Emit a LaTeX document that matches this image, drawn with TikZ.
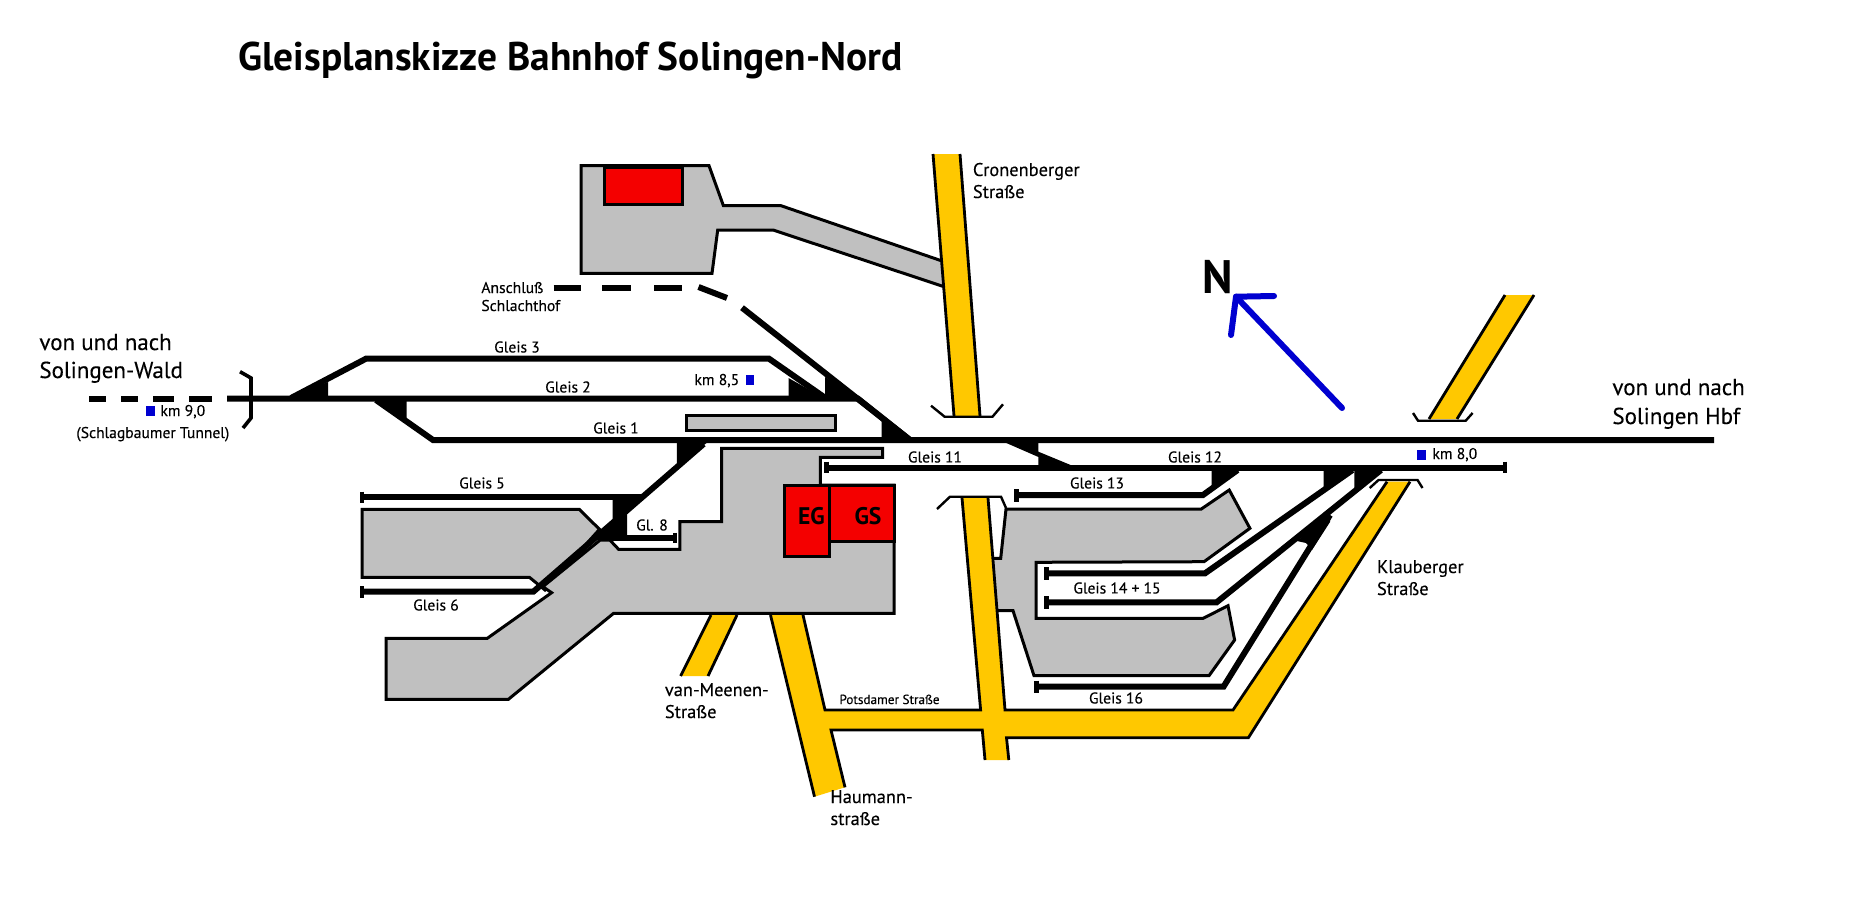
\documentclass[tikz,border=0pt]{standalone}
\usepackage{fontspec}
\setmainfont{PT Sans}[FakeBold=0.25]
\newfontfamily\headfont{PT Sans Bold}[FakeStretch=0.985]
\definecolor{platgray}{HTML}{C0C0C0}
\definecolor{roadyellow}{HTML}{FFC800}
\definecolor{housered}{HTML}{F40000}
\definecolor{kmblue}{HTML}{0000D0}
\tikzset{
  track/.style={draw=black, line width=3pt},
  stub/.style={draw=black, line width=2.4pt},
  wedge/.style={fill=black},
  plat/.style={draw=black, line width=1.5pt, fill=platgray, line join=miter},
  house/.style={draw=black, line width=1.5pt, fill=housered},
  road/.style={fill=roadyellow},
  edge/.style={draw=black, line width=1.4pt},
  abut/.style={draw=black, line width=1.2pt},
  km/.style={fill=kmblue, draw=none},
  big/.style={font=\fontsize{11.5}{13}\selectfont, inner sep=0pt, anchor=mid west},
  lab/.style={font=\fontsize{7.8}{10}\selectfont, inner sep=0pt},
  labw/.style={lab, anchor=mid west},
  street/.style={font=\fontsize{9.2}{11}\selectfont, inner sep=0pt, anchor=mid west}
}
\begin{document}
\begin{tikzpicture}[x=0.5pt,y=-0.5pt]
    \useasboundingbox (0,0) rectangle (1850,920);
    % platforms and buildings
    \draw[plat] (581,165.7)--(709,165.7)--(723.4,205.7)--(781,205.7)--(945,262)--(945,287)--(773,230)--(717.7,230)--(712,273.3)--(581,273.3)--cycle;
    \draw[plat] (686,415.7) rectangle (835,430);
    \draw[plat] (362,509.3)--(579.2,509.3)--(599.5,529.3)--(545,590)--(529.4,577.3)--(362,577.3)--cycle;
    \draw[plat] (721.6,448.3)--(882.7,448.3)--(882.7,457.3)--(820.3,457.3)--(820.3,485)--(894.2,485)--(894.2,613.3)--(613.6,613.3)--(508.4,699.3)--(386,699.3)--(386,638.3)--(487.3,638.3)--(551.6,592.7)--(542.8,586.7)--(600.2,540)--(609.8,540)--(618.6,549.3)--(679.8,549.3)--(679.8,521.7)--(721.6,521.7)--cycle;
    \draw[plat] (1008,509)--(1201.3,509)--(1229.2,490)--(1249.9,528.3)--(1204,561.7)--(1036,562.3)--(1036,618.3)--(1203.2,618.3)--(1228,605.7)--(1234.6,640)--(1209,675.7)--(1034,675.7)--(1013,610.7)--(990,610.7)--(990,558.3)--(1000.7,558.3)--(1006,509)--cycle;
    \draw[house] (604,167.7) rectangle (682.5,204);
    \draw[house] (784.7,485) rectangle (829.9,556);
    \draw[house] (829.9,485) rectangle (894.2,541.7);
    % roads
    \fill[road] (933,154)--(960,154)--(980,416)--(954,416)--cycle;
    \draw[edge] (933,154)--(954,416);
    \draw[edge] (960,154)--(980,416);
    \fill[road] (711,615)--(737,615)--(708,676)--(680.6,676)--cycle;
    \draw[edge] (711,615)--(680.6,676);
    \draw[edge] (737,615)--(708,676);
    \fill[road] (1505,295)--(1534,295)--(1457,419)--(1429,419)--cycle;
    \draw[edge] (1505,295)--(1429,419);
    \draw[edge] (1534,295)--(1457,419);
    \fill[road] (770.5,615)--(803,615)--(825,710)--(980.6,710)--(962,498)--(988,498)--(1005,710)--(1233,710)--(1387,481.7)--(1410,481.7)--(1248.4,737.7)--(1006.5,737.7)--(1008.8,760)--(985,760)--(982.3,730)--(831,730)--(845,787.3)--(814.5,796.7)--cycle;
    \draw[edge] (770.5,615)--(814.5,796.7);
    \draw[edge] (803,615)--(825,710)--(980.6,710)--(962,498);
    \draw[edge] (845,787.3)--(831,730)--(982.3,730)--(985,760);
    \draw[edge] (988,498)--(1005,710)--(1233,710)--(1387,481.7);
    \draw[edge] (1008.8,760)--(1006.5,737.7)--(1248.4,737.7)--(1410,481.7);
    % bridges
    \draw[abut, line width=1.8pt] (240,371.7)--(251,378)--(251,418)--(243,428);
    \draw[abut] (931,405.7)--(944.6,416.7)--(992.5,416.7)--(1003,404.3);
    \draw[abut] (937,509)--(950,496.7)--(1001,496.7)--(1006,508);
    \draw[abut] (1369.7,488)--(1378.5,480)--(1417.5,480)--(1422.5,488);
    \draw[abut] (1413,413)--(1418,420.7)--(1465.7,420.7)--(1472.6,413);
    % tracks
    \coordinate (w1) at (227,398.7);
    \coordinate (w2) at (858,398.7);
    \coordinate (w3) at (910,440);
    \coordinate (w4) at (433,440);
    \coordinate (w5) at (376,400);
    \coordinate (w6) at (291,398);
    \coordinate (w7) at (366,358.7);
    \coordinate (w8) at (769,358.7);
    \coordinate (w9) at (824,397);
    \coordinate (e1) at (1714,440);
    \coordinate (g5l) at (362,496.7);
    \coordinate (g5r) at (642,496.7);
    \coordinate (g6l) at (362,591.7);
    \coordinate (g6r) at (533.3,591.7);
    \coordinate (dtop) at (703.6,444);
    \coordinate (g8l) at (610,538.3);
    \coordinate (g8r) at (675,538.3);
    \coordinate (g11l) at (826.7,467.7);
    \coordinate (g11r) at (1505,467.7);
    \coordinate (g13l) at (1016.8,495);
    \coordinate (g13m) at (1203,495);
    \coordinate (g13t) at (1237.6,470);
    \coordinate (g14l) at (1046.3,573.3);
    \coordinate (g14m) at (1205,573.3);
    \coordinate (g14t) at (1352.5,470);
    \coordinate (g15l) at (1046.3,602.3);
    \coordinate (g15m) at (1216.6,602.3);
    \coordinate (g15t) at (1381,470);
    \coordinate (g16l) at (1036.7,686.7);
    \coordinate (g16m) at (1223.5,686.7);
    \coordinate (g16t) at (1330,515);
    \coordinate (a1) at (742,307.7);
    \draw[track] (89,398.7)--(106,398.7);
    \draw[track] (121,398.7)--(138,398.7);
    \draw[track] (153,398.7)--(174,398.7);
    \draw[track] (189,398.7)--(212,398.7);
    \draw[track] (w1)--(w2)--(w3);
    \draw[track] (w5)--(w4)--(e1);
    \draw[track] (w6)--(w7)--(w8)--(w9);
    \draw[track] (g5l)--(g5r);
    \draw[track] (dtop)--(g6r)--(g6l);
    \draw[track] (g8l)--(g8r);
    \draw[track] (g11l)--(g11r);
    \draw[track] (g13l)--(g13m)--(g13t);
    \draw[track] (g14l)--(g14m)--(g14t);
    \draw[track] (g15l)--(g15m)--(g15t);
    \draw[track] (g16l)--(g16m)--(g16t);
    \draw[track] (a1)--(w3);
    \draw[track] (553.6,288)--(581,288);
    \draw[track] (602,288)--(631,288);
    \draw[track] (654,288)--(682,288);
    \draw[track] (698.5,287)--(727,298);
    \draw[stub] (362,491.7)--(362,502.7);
    \draw[stub] (362,586)--(362,597.7);
    \draw[stub] (675,532.7)--(675,543.3);
    \draw[stub] (826.7,461.7)--(826.7,473.3);
    \draw[stub] (1505,461.7)--(1505,473.3);
    \draw[stub] (1016.8,489)--(1016.8,501.7);
    \draw[stub] (1046.3,567)--(1046.3,580);
    \draw[stub] (1046.3,596)--(1046.3,608.5);
    \draw[stub] (1036.7,680.7)--(1036.7,693.3);
    % points
    \fill[wedge] (291,397)--(328,382)--(328,398)--cycle;
    \fill[wedge] (788.5,378)--(788.5,398)--(824,398)--cycle;
    \fill[wedge] (374,400)--(406.5,400)--(406.5,418)--cycle;
    \fill[wedge] (825,377)--(825,398)--(858.5,398)--cycle;
    \fill[wedge] (881.5,418)--(881.5,438)--(910,438)--cycle;
    \fill[wedge] (676.8,442)--(708,442)--(676.8,465)--cycle;
    \fill[wedge] (612.5,497)--(642,497)--(627,511.7)--(627,540)--(596,540)--(612.5,520)--cycle;
    \fill[wedge] (1004,442)--(1038.4,442)--(1038.4,451.7)--(1073,466)--(1038.4,466)--(1038.4,457)--cycle;
    \fill[wedge] (1211.6,469)--(1237.6,469)--(1211.6,487)--cycle;
    \fill[wedge] (1323.7,469)--(1352.5,469)--(1323.7,489.3)--cycle;
    \fill[wedge] (1354.4,469)--(1381,469)--(1354.4,490)--cycle;
    \fill[wedge] (1297,541)--(1330,513)--(1330,522)--(1312,550)--(1306,543)--cycle;
    % km posts
    \fill[km] (146,405.7) rectangle (155,415.7);
    \fill[km] (745.6,375) rectangle (754.4,385);
    \fill[km] (1416.7,450) rectangle (1425.5,460);
    % north arrow
    \draw[draw=kmblue, line width=3pt, line cap=round, line join=round] (1342,408)--(1236,296.7);
    \draw[draw=kmblue, line width=3pt, line cap=round, line join=round] (1274,296)--(1236,296.7)--(1231,335);
    % labels
    \node[font=\fontsize{20}{22}\headfont, inner sep=0pt, anchor=mid west] (title) at (238,66) {Gleisplanskizze Bahnhof Solingen-Nord};
    \node[font=\fontsize{23.5}{25}\headfont, inner sep=0pt] (north) at (1218,277) {N};
    \node[big] (wald1) at (39,345) {von und nach};
    \node[big] (wald2) at (39,373) {Solingen-Wald};
    \node[big] (hbf1) at (1612,390) {von und nach};
    \node[big] (hbf2) at (1612,419) {Solingen Hbf};
    \node[labw] (km9) at (160,411) {km 9,0};
    \node[labw] (tunnel) at (76,433) {(Schlagbaumer Tunnel)};
    \node[labw] (km85) at (694,380) {km 8,5};
    \node[labw] (km8) at (1432,454) {km 8,0};
    \node[labw] (ans1) at (481,288) {Anschluß};
    \node[labw] (ans2) at (481,306) {Schlachthof};
    \node[lab] (g3) at (517,347) {Gleis 3};
    \node[lab] (g2) at (568,387) {Gleis 2};
    \node[lab] (g1) at (616,428) {Gleis 1};
    \node[lab] (g5) at (482,483) {Gleis 5};
    \node[lab] (g6) at (436,605) {Gleis 6};
    \node[lab] (g8) at (652,525) {Gl. 8};
    \node[lab] (g11) at (935,457) {Gleis 11};
    \node[lab] (g12) at (1195,457) {Gleis 12};
    \node[lab] (g13) at (1097,483) {Gleis 13};
    \node[lab] (g1415) at (1117,588) {Gleis 14 + 15};
    \node[lab] (g16) at (1116,698) {Gleis 16};
    \node[font=\fontsize{12}{13}\headfont, inner sep=0pt] (eg) at (811.5,516) {EG};
    \node[font=\fontsize{12}{13}\headfont, inner sep=0pt] (gs) at (868,516) {GS};
    \node[labw, font=\fontsize{6.6}{8}\selectfont] (pots) at (839,699) {Potsdamer Straße};
    \node[street] (cro1) at (972.5,171) {Cronenberger};
    \node[street] (cro2) at (972.5,193) {Straße};
    \node[street] (mee1) at (664.5,691) {van-Meenen-};
    \node[street] (mee2) at (664.5,713) {Straße};
    \node[street] (hau1) at (830,798) {Haumann-};
    \node[street] (hau2) at (830,820) {straße};
    \node[street] (kla1) at (1376.6,568) {Klauberger};
    \node[street] (kla2) at (1376.6,590) {Straße};
\end{tikzpicture}
\end{document}
